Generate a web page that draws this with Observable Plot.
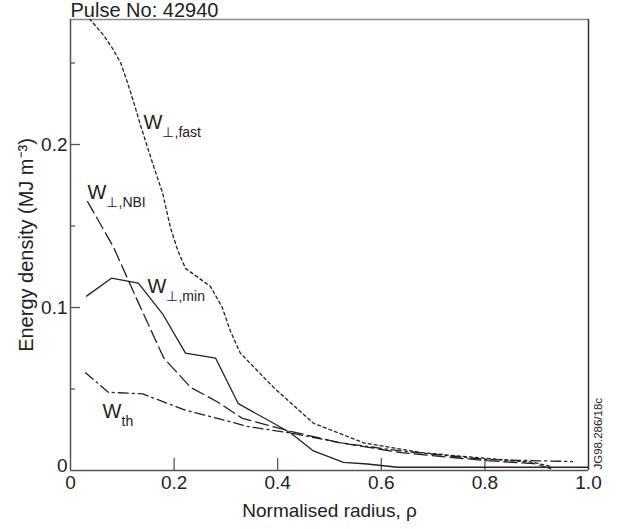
<!DOCTYPE html>
<html>
<head>
<meta charset="utf-8">
<script src="https://cdn.jsdelivr.net/npm/d3@7"></script>
<script src="https://cdn.jsdelivr.net/npm/@observablehq/plot@0.6"></script>
<style>
  html, body { margin: 0; padding: 0; background: #fff; }
  #chart svg { display: block; }
</style>
</head>
<body>
<div id="chart"></div>
<script>
// ---- data ----
const title = "Pulse No: 42940";
const xLabel = "Normalised radius, ρ";
const yLabel = "Energy density (MJ m⁻³)";
const codeLabel = "JG98.286/18c";

const rhoFast = [0.029, 0.064, 0.081, 0.097, 0.110, 0.122, 0.135, 0.158, 0.178, 0.193, 0.207, 0.222, 0.270, 0.293, 0.308, 0.328, 0.392, 0.469, 0.566, 0.676, 0.803, 0.894, 0.927];
const wFast   = [0.280, 0.267, 0.259, 0.250, 0.238, 0.226, 0.212, 0.189, 0.170, 0.149, 0.135, 0.124, 0.113, 0.100, 0.086, 0.072, 0.051, 0.029, 0.017, 0.011, 0.0074, 0.005, 0.0025];

const rhoNBI = [0.033, 0.083, 0.131, 0.180, 0.232, 0.284, 0.332, 0.425, 0.521, 0.637, 0.803, 0.894, 0.927];
const wNBI   = [0.165, 0.137, 0.103, 0.069, 0.051, 0.042, 0.032, 0.024, 0.017, 0.011, 0.006, 0.0043, 0.0012];

const rhoMin = [0.031, 0.079, 0.131, 0.178, 0.222, 0.280, 0.324, 0.392, 0.425, 0.469, 0.527, 0.573, 0.631, 1.0];
const wMin   = [0.107, 0.118, 0.115, 0.096, 0.072, 0.069, 0.041, 0.029, 0.023, 0.012, 0.005, 0.004, 0.002, 0.002];

const rhoTh = [0.029, 0.073, 0.139, 0.222, 0.284, 0.342, 0.425, 0.521, 0.637, 0.803, 0.969];
const wTh   = [0.060, 0.048, 0.047, 0.037, 0.032, 0.027, 0.023, 0.017, 0.012, 0.0067, 0.0055];

const xTickValues = [0, 0.2, 0.4, 0.6, 0.8, 1.0];
const xTickLabels = ["0", "0.2", "0.4", "0.6", "0.8", "1.0"];
const xInnerTicks = [0.2, 0.4, 0.6, 0.8];
const yTickValues = [0.1, 0.2];
const yTickLabels = ["0.1", "0.2"];
const yZeroLabel = ["0"];
const yMinorTicks = [0.05, 0.15, 0.25];
const yTop = 0.2767;

const seriesLabels = ["W", "W", "W", "W"];
const seriesSubs = ["⊥,fast", "⊥,NBI", "⊥,min", "th"];
const labelRho = [0.1409, 0.0328, 0.1486, 0.0618];
const labelW = [0.2098, 0.1663, 0.1086, 0.0325];

// ---- build tables ----
const toRows = (xs, ys) => xs.map((x, i) => ({x, y: ys[i]}));
const fast = toRows(rhoFast, wFast);
const nbi = toRows(rhoNBI, wNBI);
const wmin = toRows(rhoMin, wMin);
const wth = toRows(rhoTh, wTh);
const labels = seriesLabels.map((t, i) => ({t, sub: seriesSubs[i], x: labelRho[i], y: labelW[i]}));
const xTicks = xTickValues.map((v, i) => ({v, t: xTickLabels[i]}));
const yTicks = yTickValues.map((v, i) => ({v, t: yTickLabels[i]}));

const ink = "#222";
const W = 617, H = 529;
const mL = 70, mR = 29, mT = 19, mB = 59;
const plotW = W - mL - mR, plotH = H - mT - mB;

const chart = Plot.plot({
  width: W, height: H,
  marginLeft: mL, marginRight: mR, marginTop: mT, marginBottom: mB,
  x: {domain: [0, 1], axis: null},
  y: {domain: [0, yTop], axis: null},
  style: {fontFamily: "'Liberation Sans', Arial, Helvetica, sans-serif", fontSize: "19px", color: ink, background: "#fff"},
  marks: [
    // frame
    Plot.ruleY([yTop], {stroke: "#888", strokeWidth: 1.5}),
    Plot.ruleX([1], {stroke: "#333", strokeWidth: 1.5}),
    Plot.ruleX([0], {stroke: "#555", strokeWidth: 1.5}),
    Plot.ruleY([0], {stroke: "#555", strokeWidth: 1.5}),
    // inward ticks
    Plot.tickX(xInnerTicks, {x: d => d, insetTop: plotH - 12, stroke: "#555", strokeWidth: 1.3}),
    Plot.tickY(yTickValues, {y: d => d, insetRight: plotW - 10, stroke: "#555", strokeWidth: 1.3}),
    Plot.tickY(yMinorTicks, {y: d => d, insetRight: plotW - 5, stroke: "#555", strokeWidth: 1.3}),
    // tick labels
    Plot.text(xTicks, {x: "v", y: 0, text: "t", lineAnchor: "top", dy: 5, fontSize: 19, fill: ink}),
    Plot.text(yTicks, {x: 0, y: "v", text: "t", textAnchor: "end", lineAnchor: "middle", dx: -3, fontSize: 19, fill: ink}),
    Plot.text(yZeroLabel, {x: 0, y: 0, text: d => d, textAnchor: "end", lineAnchor: "middle", dx: -3, dy: -5, fontSize: 19, fill: ink}),
    // series
    Plot.line(fast, {x: "x", y: "y", stroke: ink, strokeWidth: 1.3, strokeDasharray: "3,3", clip: true}),
    Plot.line(nbi, {x: "x", y: "y", stroke: ink, strokeWidth: 1.3, strokeDasharray: "13,5", clip: true}),
    Plot.line(wmin, {x: "x", y: "y", stroke: ink, strokeWidth: 1.3, clip: true}),
    Plot.line(wth, {x: "x", y: "y", stroke: ink, strokeWidth: 1.3, strokeDasharray: "10,4,2,4", clip: true}),
    // series labels
    Plot.text(labels, {x: "x", y: "y", text: "t", textAnchor: "start", lineAnchor: "bottom", fontSize: 20, fill: ink}),
    Plot.text(labels, {x: "x", y: "y", text: "sub", textAnchor: "start", lineAnchor: "bottom", dx: 19, dy: 8, fontSize: 14, fill: ink}),
    // title and axis labels
    Plot.text([title], {frameAnchor: "top-left", text: d => d, textAnchor: "start", lineAnchor: "bottom", dy: -3, fontSize: 20, fill: ink}),
    Plot.text([xLabel], {frameAnchor: "bottom", text: d => d, textAnchor: "middle", lineAnchor: "bottom", dy: 46, fontSize: 19, fill: ink}),
    Plot.text([yLabel], {frameAnchor: "left", text: d => d, rotate: -90, textAnchor: "middle", lineAnchor: "bottom", dx: -38, dy: 0, fontSize: 20, fill: ink}),
    Plot.text([codeLabel], {frameAnchor: "bottom-right", text: d => d, rotate: -90, textAnchor: "start", lineAnchor: "bottom", dx: 13, dy: -1, fontSize: 11.5, fill: ink})
  ]
});
document.getElementById("chart").appendChild(chart);
</script>
</body>
</html>
